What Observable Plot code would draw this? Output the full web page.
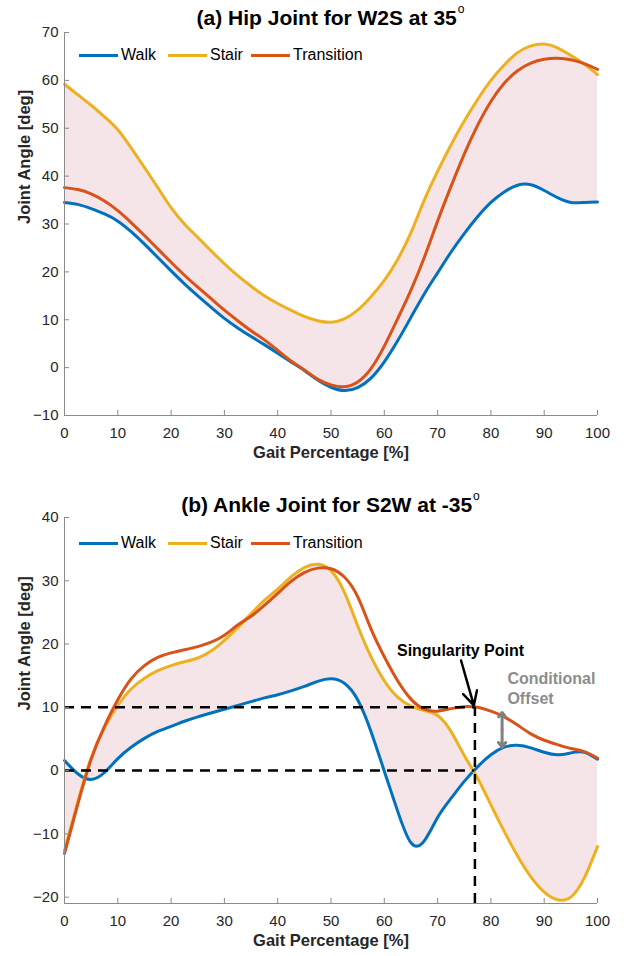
<!DOCTYPE html>
<html>
<head>
<meta charset="utf-8">
<script src="https://cdn.jsdelivr.net/npm/d3@7"></script>
<script src="https://cdn.jsdelivr.net/npm/@observablehq/plot@0.6"></script>
<style>
  body { margin: 0; background: #fff; }
  #fig { position: relative; width: 633px; height: 956px; overflow: hidden;
         font-family: "Liberation Sans", Arial, Helvetica, sans-serif; background: #fff; }
  #fig svg { position: absolute; left: 0; }
  .title { position: absolute; left: 64px; width: 533px; text-align: center; font-weight: bold;
           font-size: 21px; line-height: 21px; color: #000; white-space: nowrap; }
  .deg { font-weight: normal; font-size: 12px; position: relative; top: -12px; margin-left: 1px; }
  .legtext { position: absolute; font-size: 16px; line-height: 16px; color: #000; white-space: nowrap; }
  .sw { position: absolute; height: 3px; width: 39px; }
</style>
</head>
<body>
<div id="fig"></div>
<script>
// ---------- data ----------
const gait = [0, 2.5, 5, 7.5, 10, 12.5, 15, 17.5, 20, 22.5, 25, 27.5, 30, 32.5, 35, 37.5, 40,
  42.5, 45, 47.5, 50, 52.5, 55, 57.5, 60, 62.5, 65, 67.5, 70, 72.5, 75, 77.5, 80, 82.5, 85,
  87.5, 90, 92.5, 95, 97.5, 100];

// (a) Hip joint, W2S at 35°
const hipWalk = [34.5, 34.1, 33.2, 32.1, 30.6, 28.4, 25.8, 23.0, 20.2, 17.5, 15.0, 12.6, 10.3,
  8.3, 6.5, 4.8, 3.0, 1.2, -0.6, -2.6, -4.1, -4.8, -4.2, -2.2, 1.2, 5.6, 10.5, 15.4, 19.8,
  24.1, 28.0, 31.5, 34.5, 36.7, 38.1, 38.2, 37.0, 35.5, 34.5, 34.5, 34.6];
const hipStair = [59.2, 57.0, 54.8, 52.4, 49.7, 45.9, 41.8, 37.6, 33.4, 30.0, 27.2, 24.4, 21.7,
  19.2, 17.0, 15.0, 13.4, 12.0, 10.7, 9.8, 9.5, 10.2, 12.0, 14.8, 18.2, 22.6, 28.2, 35.0,
  41.0, 46.5, 51.5, 56.0, 60.0, 63.2, 65.8, 67.2, 67.6, 66.8, 65.2, 63.4, 61.2];
const hipTransition = [37.6, 37.2, 36.3, 34.8, 32.8, 30.3, 27.6, 24.8, 22.0, 19.3, 16.8, 14.4,
  12.0, 9.8, 7.7, 5.8, 3.6, 1.4, -0.5, -2.4, -3.6, -4.0, -3.0, -0.2, 4.5, 10.2, 16.2, 23.0,
  30.6, 37.8, 44.6, 50.6, 55.6, 59.4, 62.0, 63.6, 64.4, 64.6, 64.3, 63.5, 62.3];

// (b) Ankle joint, S2W at -35°
const ankleWalk = [1.6, -0.5, -1.4, -0.3, 1.9, 3.7, 5.1, 6.2, 7.0, 7.8, 8.5, 9.1, 9.7, 10.3,
  10.9, 11.5, 12.0, 12.6, 13.3, 14.1, 14.5, 13.8, 11.2, 6.2, -0.1, -6.4, -11.4, -11.1, -7.4,
  -4.4, -1.7, 0.6, 2.5, 3.7, 4.0, 3.6, 2.9, 2.5, 2.8, 2.9, 1.8];
const ankleStair = [-12.6, -4.9, 2.0, 6.8, 10.3, 12.9, 14.6, 15.8, 16.6, 17.2, 17.8, 18.9, 20.6,
  22.6, 24.8, 26.9, 28.7, 30.6, 32.1, 32.6, 31.6, 28.2, 22.9, 18.0, 14.2, 11.6, 10.2, 9.5,
  8.7, 6.2, 2.4, -1.2, -5.4, -9.6, -13.5, -16.8, -19.2, -20.4, -20.0, -17.0, -12.0];
const ankleTransition = [-13.1, -5.3, 1.8, 7.0, 11.2, 14.5, 16.6, 17.9, 18.6, 19.1, 19.6, 20.3,
  21.4, 23.0, 24.4, 26.1, 28.0, 29.9, 31.3, 32.0, 31.9, 30.6, 27.5, 22.4, 18.0, 14.2, 11.3,
  9.7, 9.4, 9.8, 10.1, 10.0, 9.4, 8.5, 7.2, 5.8, 4.8, 4.1, 3.5, 3.0, 2.0];

const seriesNames = ["Walk", "Stair", "Transition"];
const seriesColors = ["#0072BD", "#EDB120", "#D95319"];
const gaitTicks = [0, 10, 20, 30, 40, 50, 60, 70, 80, 90, 100];
const hipTicks = [-10, 0, 10, 20, 30, 40, 50, 60, 70];
const ankleTicks = [-20, -10, 0, 10, 20, 30, 40];
const hipDomain = [-10, 70];
const ankleDomain = [-21, 40];

// annotation data (panel b)
const guideAngles = [0, 10];
const singularityGait = [77];
const singularityLabel = [{gait: 74.3, angle: 18.9, text: "Singularity Point"}];
const singularityArrow = [{g1: 74.4, a1: 17.4, g2: 76.8, a2: 10.3}];
const offsetLabel = [{gait: 83.1, angle: 14.5, text: "Conditional"}, {gait: 83.1, angle: 11.3, text: "Offset"}];
const offsetArrow = [{g: 82.1, from: 6.5, to: 9.2}, {g: 82.1, from: 6.5, to: 3.7}];

// ---------- drawing ----------
const FONT = "Liberation Sans, Arial, Helvetica, sans-serif";
const AXIS = "#8a8a8a";
const TEXT = "#262626";
const SHADE = "#f5e5e9";
const CURVE = "natural";

function rows(w, s, t) {
  return gait.map((g, i) => ({gait: g, walk: w[i], stair: s[i], transition: t[i]}));
}

function panel({data, domain, ticks, marginTop, marginBottom, height, extra}) {
  return Plot.plot({
    width: 633, height, marginLeft: 64, marginRight: 36, marginTop, marginBottom,
    style: {fontFamily: FONT, fontSize: "15px", background: "transparent", overflow: "visible"},
    x: {domain: [0, 100]},
    y: {domain},
    marks: [
      Plot.areaY(data, {x: "gait", y1: "walk", y2: "stair", fill: SHADE, curve: CURVE}),
      Plot.line(data, {x: "gait", y: "walk", stroke: seriesColors[0], strokeWidth: 3, curve: CURVE}),
      Plot.line(data, {x: "gait", y: "stair", stroke: seriesColors[1], strokeWidth: 3, curve: CURVE}),
      Plot.line(data, {x: "gait", y: "transition", stroke: seriesColors[2], strokeWidth: 3, curve: CURVE}),
      ...(extra || []),
      Plot.ruleX([0], {stroke: AXIS, strokeWidth: 1}),
      Plot.ruleY([domain[0]], {stroke: AXIS, strokeWidth: 1}),
      Plot.axisX(gaitTicks, {tickSize: 5, dy: -5, text: null, label: null, stroke: AXIS}),
      Plot.axisY(ticks, {tickSize: 5, dx: 5, text: null, label: null, stroke: AXIS}),
      Plot.axisX(gaitTicks, {tickSize: 0, tickPadding: 12, label: null, fill: TEXT, fontSize: 15}),
      Plot.axisY(ticks, {tickSize: 0, tickPadding: 6, label: null, fill: TEXT, fontSize: 15}),
      Plot.text(["Gait Percentage [%]"], {text: d => d, frameAnchor: "bottom", dy: 42,
        fontWeight: "bold", fontSize: 16.5, fill: TEXT}),
      Plot.text(["Joint Angle [deg]"], {text: d => d, frameAnchor: "left", dx: -40, rotate: -90,
        fontWeight: "bold", fontSize: 16.5, fill: TEXT})
    ]
  });
}

const fig = document.getElementById("fig");

const hipPlot = panel({
  data: rows(hipWalk, hipStair, hipTransition), domain: hipDomain, ticks: hipTicks,
  marginTop: 32, marginBottom: 63, height: 478
});
hipPlot.style.top = "0px";
fig.appendChild(hipPlot);

const dash = {stroke: "#000", strokeWidth: 2.5, strokeDasharray: "10,7"};
const anklePlot = panel({
  data: rows(ankleWalk, ankleStair, ankleTransition), domain: ankleDomain, ticks: ankleTicks,
  marginTop: 39, marginBottom: 53, height: 478,
  extra: [
    Plot.ruleY(guideAngles, {y: d => d, x1: 0, x2: singularityGait[0], ...dash}),
    Plot.ruleX(singularityGait, {x: d => d, y1: ankleDomain[0], y2: guideAngles[1], ...dash}),
    Plot.arrow(singularityArrow, {x1: "g1", y1: "a1", x2: "g2", y2: "a2", stroke: "#000",
      strokeWidth: 2.5, headLength: 13, headAngle: 55}),
    Plot.text(singularityLabel, {x: "gait", y: "angle", text: "text", fontWeight: "bold",
      fontSize: 16, fill: "#000"}),
    Plot.arrow(offsetArrow, {x1: "g", y1: "from", x2: "g", y2: "to", stroke: "#808080",
      strokeWidth: 3, headLength: 9, headAngle: 75}),
    Plot.text(offsetLabel, {x: "gait", y: "angle", text: "text", textAnchor: "start",
      fontWeight: "bold", fontSize: 16, fill: "#8c8c8c"})
  ]
});
anklePlot.style.top = "478px";
fig.appendChild(anklePlot);

// titles
function addTitle(text, top) {
  const d = document.createElement("div");
  d.className = "title";
  d.style.top = top + "px";
  d.innerHTML = text + '<span class="deg">o</span>';
  fig.appendChild(d);
}
addTitle("(a) Hip Joint for W2S at 35", 7);
addTitle("(b) Ankle Joint for S2W at -35", 494);

// legends
const legendLeft = [79, 168, 251];
function addLegend(cy) {
  seriesNames.forEach((name, i) => {
    const sw = document.createElement("div");
    sw.className = "sw";
    sw.style.left = legendLeft[i] + "px";
    sw.style.top = (cy - 1.5) + "px";
    sw.style.background = seriesColors[i];
    fig.appendChild(sw);
    const t = document.createElement("div");
    t.className = "legtext";
    t.style.left = (legendLeft[i] + 42) + "px";
    t.style.top = (cy - 8) + "px";
    t.textContent = name;
    fig.appendChild(t);
  });
}
addLegend(55);
addLegend(543);
</script>
</body>
</html>
